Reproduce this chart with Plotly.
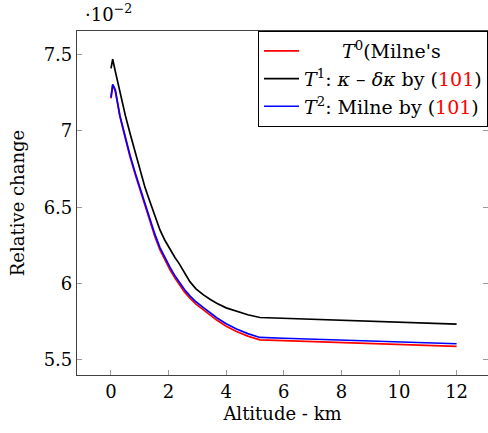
import plotly.graph_objects as go

altitude = [0.0, 0.06, 0.15, 0.31, 0.5, 0.66, 0.85, 1.01, 1.18, 1.35, 1.52, 1.70, 1.88, 2.05, 2.22,
            2.35, 2.40, 2.55, 2.74, 2.95, 3.21, 3.45, 3.67, 4.0, 4.36, 4.75, 5.17, 6.0, 7.0, 8.0,
            9.0, 10.0, 11.0, 12.0]
t0_milne = [7.214, 7.30, 7.26, 7.094, 6.95, 6.83, 6.71, 6.613, 6.50, 6.406, 6.31, 6.22, 6.15, 6.09,
            6.035, 6.00, 5.985, 5.945, 5.904, 5.865, 5.827, 5.79, 5.76, 5.72, 5.685, 5.655, 5.63,
            5.625, 5.619, 5.610, 5.603, 5.597, 5.592, 5.587]
t1_kappa = [7.41, 7.47, 7.39, 7.247, 7.10, 6.985, 6.855, 6.745, 6.63, 6.537, 6.44, 6.351, 6.28, 6.22,
            6.17, 6.135, 6.12, 6.07, 6.012, 5.965, 5.925, 5.895, 5.87, 5.84, 5.816, 5.795, 5.777,
            5.772, 5.765, 5.758, 5.751, 5.745, 5.739, 5.733]
t2_milne = [7.22, 7.305, 7.27, 7.10, 6.958, 6.84, 6.72, 6.625, 6.513, 6.42, 6.325, 6.235, 6.165, 6.105,
            6.05, 6.015, 6.00, 5.96, 5.919, 5.88, 5.842, 5.805, 5.775, 5.736, 5.701, 5.671, 5.646,
            5.641, 5.635, 5.627, 5.620, 5.614, 5.609, 5.605]

x_ticks = [0, 2, 4, 6, 8, 10, 12]
y_ticks = [5.5, 6.0, 6.5, 7.0, 7.5]
y_tick_text = ["5.5", "6", "6.5", "7", "7.5"]

FONT = "DejaVu Serif"
FS = 18
RED101 = "<span style='color:#ff0000'>101</span>"
names = [
    "\u2003\u2003<i>T</i><sup>0</sup>(Milne's",
    "<i>T</i><sup>1</sup>: <i>κ</i> – <i>δκ</i> by (" + RED101 + ")",
    "<i>T</i><sup>2</sup>: Milne by (" + RED101 + ")",
]

fig = go.Figure()
fig.add_trace(go.Scatter(x=altitude, y=t0_milne, mode="lines", name=names[0],
                         line=dict(color="#ff0000", width=1.7)))
fig.add_trace(go.Scatter(x=altitude, y=t1_kappa, mode="lines", name=names[1],
                         line=dict(color="#000000", width=1.7)))
fig.add_trace(go.Scatter(x=altitude, y=t2_milne, mode="lines", name=names[2],
                         line=dict(color="#0000ff", width=1.7)))
# helper trace for right-side mirrored ticks (no visible marks)
fig.add_trace(go.Scatter(x=[None], y=[None], yaxis="y2", showlegend=False, hoverinfo="skip"))

XR = [-1.18, 13.09]
YR = [5.40, 7.655]

fig.update_layout(
    width=488, height=433,
    margin=dict(l=77, r=0, t=31, b=58, autoexpand=False),
    paper_bgcolor="white", plot_bgcolor="white",
    font=dict(family=FONT, size=FS, color="black"),
    showlegend=True,
    legend=dict(x=1.0, y=1.0, xanchor="right", yanchor="top",
                bgcolor="white", bordercolor="black", borderwidth=1,
                font=dict(family=FONT, size=19), tracegroupgap=0,
                itemwidth=35),
    xaxis=dict(range=XR, tickvals=x_ticks, showgrid=False, zeroline=False, automargin=False,
               showline=True, linecolor="#404040", linewidth=1.2, mirror=True,
               ticks="inside", ticklen=5, tickcolor="#9a9a9a", tickwidth=1,
               tickfont=dict(family=FONT, size=FS),
               title=dict(text="Altitude - km", font=dict(family=FONT, size=FS), standoff=6)),
    yaxis=dict(range=YR, tickvals=y_ticks, ticktext=y_tick_text, showgrid=False, zeroline=False,
               automargin=False,
               showline=True, linecolor="#404040", linewidth=1.2, mirror=False,
               ticks="inside", ticklen=5, tickcolor="#9a9a9a", tickwidth=1,
               tickfont=dict(family=FONT, size=FS),
               title=dict(text="Relative change", font=dict(family=FONT, size=FS), standoff=14)),
    yaxis2=dict(range=YR, tickvals=y_ticks, overlaying="y", side="right", showgrid=False,
                zeroline=False, showline=False, showticklabels=False, automargin=False,
                ticks="inside", ticklen=5, tickcolor="#9a9a9a", tickwidth=1),
    annotations=[dict(text="·10<sup>−2</sup>", xref="paper", yref="paper",
                      x=(83 - 77) / 411, y=1 + (31 - 13) / 344, xanchor="left", yanchor="middle",
                      showarrow=False, font=dict(family=FONT, size=FS))],
)

fig.write_html("out.html", config={"displayModeBar": False},
               post_script="document.body.style.margin='0';document.body.style.padding='0';")
